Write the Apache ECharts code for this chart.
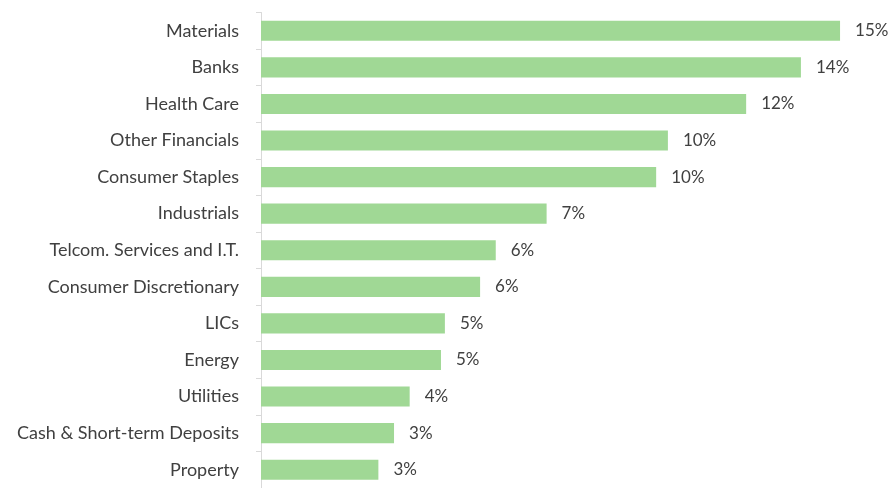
<!DOCTYPE html>
<html>
<head>
<meta charset="utf-8">
<script src="https://cdn.jsdelivr.net/npm/echarts@6/dist/echarts.min.js"></script>
<style>
  html, body { margin: 0; padding: 0; background: #fff; }
  #chart { width: 892px; height: 488px; }
</style>
</head>
<body>
<div id="chart"></div>
<script>
const categories = [
  "Materials", "Banks", "Health Care", "Other Financials", "Consumer Staples",
  "Industrials", "Telcom. Services and I.T.", "Consumer Discretionary", "LICs",
  "Energy", "Utilities", "Cash & Short-term Deposits", "Property"
];
const weights = [14.8, 13.8, 12.4, 10.4, 10.1, 7.3, 6.0, 5.6, 4.7, 4.6, 3.8, 3.4, 3.0];

const chart = echarts.init(document.getElementById("chart"));
chart.setOption({
  animation: false,
  textStyle: { fontFamily: "Lato" },
  grid: { left: 261, right: 5, top: 12.5, bottom: -4.5 },
  xAxis: {
    type: "value",
    min: 0,
    max: 16,
    show: false,
  },
  yAxis: {
    type: "category",
    inverse: true,
    data: categories,
    axisLine: { lineStyle: { color: "#d9d9d9", width: 1 } },
    axisTick: { show: true, length: 5, lineStyle: { color: "#d9d9d9" } },
    axisLabel: { color: "#404040", fontSize: 18, margin: 22 },
  },
  series: [
    {
      type: "bar",
      data: weights,
      barWidth: "55%",
      itemStyle: { color: "#a0d895" },
      label: {
        show: true,
        position: "right",
        distance: 15,
        color: "#404040",
        fontSize: 17,
        formatter: (p) => Math.round(p.value) + "%",
      },
    },
  ],
});
</script>
</body>
</html>
